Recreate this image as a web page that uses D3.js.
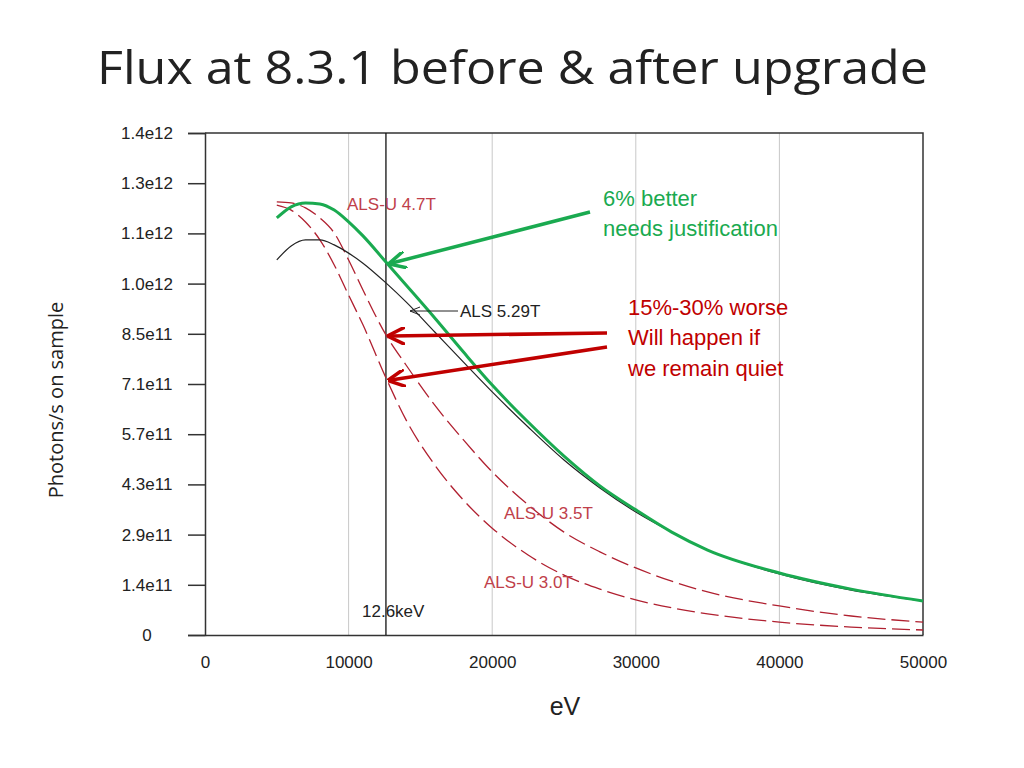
<!DOCTYPE html>
<html><head><meta charset="utf-8">
<script src="https://cdn.jsdelivr.net/npm/d3@7"></script>
<style>body{margin:0;background:#fff}</style></head>
<body><svg id="c" width="1024" height="768"></svg>
<script>
const yTickLabels=["0","1.4e11","2.9e11","4.3e11","5.7e11","7.1e11","8.5e11","1.0e12","1.1e12","1.3e12","1.4e12"];
const xTicks=[0,10000,20000,30000,40000,50000];
const eV=[5000,6000,7000,8000,9000,10000,11000,12600,14000,16000,18000,20000,22500,25000,27500,30000,32500,35000,40000,45000,50000];
const als47=[1.163,1.194,1.205,1.202,1.185,1.152,1.113,1.040,0.976,0.884,0.789,0.697,0.594,0.499,0.416,0.349,0.287,0.237,0.173,0.128,0.095];
const als529=[1.046,1.085,1.102,1.102,1.088,1.065,1.037,0.982,0.929,0.845,0.761,0.678,0.580,0.488,0.410,0.343,0.287,0.237,0.170,0.125,0.095];
const als35=[1.208,1.205,1.191,1.163,1.121,1.046,0.962,0.837,0.753,0.641,0.544,0.455,0.363,0.287,0.232,0.187,0.150,0.120,0.081,0.053,0.036];
const als30=[1.199,1.185,1.152,1.102,1.032,0.948,0.865,0.717,0.600,0.474,0.376,0.298,0.223,0.167,0.128,0.098,0.076,0.059,0.036,0.022,0.014];

const svg=d3.select("#c");
const x=d3.scaleLinear().domain([0,50000]).range([205,923]);
const y=d3.scaleLinear().domain([0,1.4]).range([635,133]);
const A="Liberation Sans, Arial, sans-serif";

svg.append("text").attr("x",97).attr("y",84).attr("textLength",831).attr("lengthAdjust","spacingAndGlyphs")
 .attr("font-family","Open Sans, sans-serif").attr("font-size",46).attr("fill","#222").text("Flux at 8.3.1  before & after upgrade");

svg.append("g").selectAll("line").data(xTicks.slice(1,5)).join("line")
 .attr("x1",d=>x(d)).attr("x2",d=>x(d)).attr("y1",133).attr("y2",635).attr("stroke","#c8c8c8");
svg.append("path").attr("d",`M${x(0)},${y(1.4)}H${x(50000)}V${y(0)}`).attr("fill","none").attr("stroke","#333").attr("stroke-width",1.5);
const ya=d3.axisLeft(y).tickValues(d3.range(11).map(i=>i*0.14)).tickSize(17).tickFormat((d,i)=>yTickLabels[i]);
const gy=svg.append("g").attr("transform",`translate(${x(0)},0)`).call(ya);
gy.selectAll("text").attr("font-family",A).attr("font-size",17).attr("fill","#222").attr("text-anchor","middle").attr("x",-58);
gy.selectAll("line,path").attr("stroke","#333").attr("stroke-width",1.5);
const xa=d3.axisBottom(x).tickValues(xTicks).tickSize(0).tickFormat(d=>d);
const gx=svg.append("g").attr("transform",`translate(0,${y(0)})`).call(xa);
gx.selectAll("text").attr("font-family",A).attr("font-size",17).attr("fill","#222").attr("dy","1.75em");
gx.select("path").attr("stroke","#333").attr("stroke-width",1.5);
svg.append("text").attr("x",565).attr("y",715).attr("text-anchor","middle").attr("font-family",A).attr("font-size",25).attr("fill","#222").text("eV");
svg.append("text").attr("transform","translate(63,400) rotate(-90)").attr("text-anchor","middle").attr("font-family","Open Sans, sans-serif").attr("font-size",20).attr("fill","#222").text("Photons/s on sample");

svg.append("line").attr("x1",x(12600)).attr("x2",x(12600)).attr("y1",133).attr("y2",635).attr("stroke","#111").attr("stroke-width",1.3);

const line=d3.line().x((d,i)=>x(eV[i])).y(d=>y(d)).curve(d3.curveMonotoneX);
svg.append("path").attr("d",line(als30)).attr("fill","none").attr("stroke","#b02030").attr("stroke-width",1.3).attr("stroke-dasharray","18,6");
svg.append("path").attr("d",line(als35)).attr("fill","none").attr("stroke","#b02030").attr("stroke-width",1.3).attr("stroke-dasharray","18,6");
svg.append("path").attr("d",line(als529)).attr("fill","none").attr("stroke","#222").attr("stroke-width",1.2);
svg.append("path").attr("d",line(als47)).attr("fill","none").attr("stroke","#1aaa50").attr("stroke-width",3);

function t(xx,yy,s,c,fs){svg.append("text").attr("x",xx).attr("y",yy).attr("font-family",A).attr("font-size",fs).attr("fill",c).text(s);}
t(347,210,"ALS-U 4.7T","#c0404a",17);
t(460,317,"ALS 5.29T","#222",17);
t(504,519,"ALS-U 3.5T","#c0404a",17);
t(484,588,"ALS-U 3.0T","#c0404a",17);
t(362,617,"12.6keV","#222",17);
svg.append("line").attr("x1",458).attr("x2",410).attr("y1",311).attr("y2",311).attr("stroke","#222");
svg.append("path").attr("d","M410,311l10,-4M410,311l10,4").attr("stroke","#222").attr("fill","none");

const defs=svg.append("defs");
function mk(id,c){defs.append("marker").attr("id",id).attr("viewBox","0 0 10 10").attr("refX",2).attr("refY",5).attr("markerWidth",5).attr("markerHeight",5).attr("orient","auto")
 .append("path").attr("d","M10,0L0,5L10,10").attr("fill","none").attr("stroke",c).attr("stroke-width",2);}
mk("ag","#1aaa50");mk("ar","#c00000");
function arr(x1,y1,x2,y2,c,m){svg.append("line").attr("x1",x1).attr("y1",y1).attr("x2",x2).attr("y2",y2).attr("stroke",c).attr("stroke-width",3.5).attr("marker-start",`url(#${m})`);}
arr(392,263,590,212,"#1aaa50","ag");
arr(391,336,607,333,"#c00000","ar");
arr(391,380,607,347,"#c00000","ar");

t(603,206,"6% better","#1aaa50",22);
t(603,236,"needs justification","#1aaa50",22);
t(628,315,"15%-30% worse","#c00000",22);
t(628,345,"Will happen if","#c00000",22);
t(628,376,"we remain quiet","#c00000",22);
</script></body></html>
